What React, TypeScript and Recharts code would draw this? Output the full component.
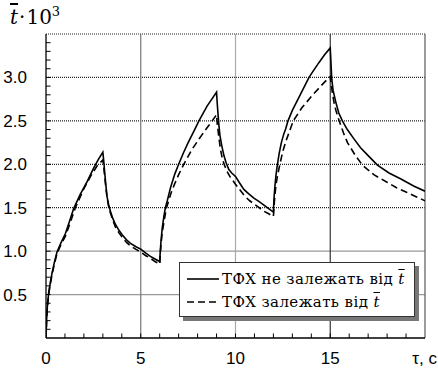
import { LineChart, Line, XAxis, YAxis, ReferenceLine } from "recharts";

// τ, с -> t̄·10³
const solidCurve = [
  { t: 0, v: 0 }, { t: 0.03, v: 0.2 }, { t: 0.07, v: 0.36 }, { t: 0.14, v: 0.52 },
  { t: 0.22, v: 0.63 }, { t: 0.32, v: 0.75 }, { t: 0.45, v: 0.88 }, { t: 0.58, v: 0.99 },
  { t: 0.8, v: 1.1 }, { t: 1.02, v: 1.2 }, { t: 1.25, v: 1.35 }, { t: 1.46, v: 1.49 },
  { t: 1.8, v: 1.65 }, { t: 2.17, v: 1.8 }, { t: 2.5, v: 1.95 }, { t: 2.75, v: 2.05 },
  { t: 3.0, v: 2.14 }, { t: 3.05, v: 2.03 }, { t: 3.1, v: 1.9 }, { t: 3.16, v: 1.76 },
  { t: 3.22, v: 1.63 }, { t: 3.3, v: 1.54 }, { t: 3.4, v: 1.46 }, { t: 3.52, v: 1.38 },
  { t: 3.66, v: 1.31 }, { t: 3.85, v: 1.24 }, { t: 4.02, v: 1.19 }, { t: 4.25, v: 1.13 },
  { t: 4.46, v: 1.09 }, { t: 4.75, v: 1.05 }, { t: 5.02, v: 1.02 }, { t: 5.25, v: 0.98 },
  { t: 5.51, v: 0.94 }, { t: 5.75, v: 0.91 }, { t: 6.0, v: 0.88 }, { t: 6.03, v: 1.0 },
  { t: 6.07, v: 1.12 }, { t: 6.13, v: 1.26 }, { t: 6.22, v: 1.4 }, { t: 6.3, v: 1.5 },
  { t: 6.4, v: 1.58 }, { t: 6.57, v: 1.73 }, { t: 6.8, v: 1.89 }, { t: 7.0, v: 2.0 },
  { t: 7.25, v: 2.13 }, { t: 7.5, v: 2.25 }, { t: 7.8, v: 2.38 }, { t: 8.07, v: 2.5 },
  { t: 8.5, v: 2.67 }, { t: 8.75, v: 2.75 }, { t: 9.0, v: 2.83 }, { t: 9.03, v: 2.72 },
  { t: 9.07, v: 2.6 }, { t: 9.12, v: 2.46 }, { t: 9.18, v: 2.33 }, { t: 9.28, v: 2.21 },
  { t: 9.39, v: 2.1 }, { t: 9.5, v: 2.02 }, { t: 9.65, v: 1.94 }, { t: 9.8, v: 1.9 },
  { t: 10.0, v: 1.86 }, { t: 10.2, v: 1.79 }, { t: 10.44, v: 1.71 }, { t: 10.7, v: 1.66 },
  { t: 10.97, v: 1.61 }, { t: 11.25, v: 1.57 }, { t: 11.5, v: 1.53 }, { t: 11.75, v: 1.49 },
  { t: 12.0, v: 1.45 }, { t: 12.03, v: 1.6 }, { t: 12.08, v: 1.75 }, { t: 12.14, v: 1.88 },
  { t: 12.2, v: 1.98 }, { t: 12.3, v: 2.12 }, { t: 12.42, v: 2.25 }, { t: 12.55, v: 2.35 },
  { t: 12.65, v: 2.41 }, { t: 12.77, v: 2.5 }, { t: 13.0, v: 2.62 }, { t: 13.3, v: 2.75 },
  { t: 13.6, v: 2.88 }, { t: 13.88, v: 3.0 }, { t: 14.15, v: 3.09 }, { t: 14.4, v: 3.17 },
  { t: 14.7, v: 3.26 }, { t: 15.0, v: 3.34 }, { t: 15.04, v: 3.16 }, { t: 15.08, v: 2.98 },
  { t: 15.15, v: 2.85 }, { t: 15.3, v: 2.71 }, { t: 15.45, v: 2.59 }, { t: 15.64, v: 2.5 },
  { t: 15.9, v: 2.4 }, { t: 16.26, v: 2.29 }, { t: 16.6, v: 2.19 }, { t: 17.0, v: 2.1 },
  { t: 17.49, v: 1.99 }, { t: 18.1, v: 1.9 }, { t: 18.73, v: 1.83 }, { t: 19.4, v: 1.75 },
  { t: 20.0, v: 1.69 },
];

const dashedCurve = [
  { t: 0, v: 0 }, { t: 0.03, v: 0.18 }, { t: 0.07, v: 0.34 }, { t: 0.14, v: 0.5 },
  { t: 0.22, v: 0.61 }, { t: 0.32, v: 0.73 }, { t: 0.45, v: 0.86 }, { t: 0.58, v: 0.97 },
  { t: 0.8, v: 1.08 }, { t: 1.02, v: 1.17 }, { t: 1.25, v: 1.31 }, { t: 1.55, v: 1.5 },
  { t: 1.8, v: 1.62 }, { t: 2.0, v: 1.72 }, { t: 2.35, v: 1.86 }, { t: 2.69, v: 1.98 },
  { t: 3.0, v: 2.05 }, { t: 3.05, v: 1.96 }, { t: 3.1, v: 1.85 }, { t: 3.16, v: 1.73 },
  { t: 3.22, v: 1.62 }, { t: 3.3, v: 1.52 }, { t: 3.4, v: 1.44 }, { t: 3.52, v: 1.36 },
  { t: 3.66, v: 1.28 }, { t: 3.85, v: 1.21 }, { t: 4.02, v: 1.16 }, { t: 4.25, v: 1.1 },
  { t: 4.46, v: 1.06 }, { t: 4.75, v: 1.02 }, { t: 5.0, v: 0.99 }, { t: 5.25, v: 0.95 },
  { t: 5.5, v: 0.92 }, { t: 5.75, v: 0.88 }, { t: 6.0, v: 0.85 }, { t: 6.03, v: 0.96 },
  { t: 6.07, v: 1.08 }, { t: 6.13, v: 1.21 }, { t: 6.22, v: 1.33 }, { t: 6.3, v: 1.43 },
  { t: 6.36, v: 1.5 }, { t: 6.6, v: 1.67 }, { t: 6.8, v: 1.78 }, { t: 7.0, v: 1.88 },
  { t: 7.27, v: 2.0 }, { t: 7.7, v: 2.17 }, { t: 8.2, v: 2.33 }, { t: 8.5, v: 2.42 },
  { t: 8.77, v: 2.5 }, { t: 9.0, v: 2.57 }, { t: 9.04, v: 2.46 }, { t: 9.1, v: 2.35 },
  { t: 9.2, v: 2.18 }, { t: 9.3, v: 2.07 }, { t: 9.4, v: 2.0 }, { t: 9.55, v: 1.92 },
  { t: 9.7, v: 1.86 }, { t: 10.0, v: 1.77 }, { t: 10.25, v: 1.7 }, { t: 10.5, v: 1.63 },
  { t: 10.75, v: 1.58 }, { t: 11.0, v: 1.54 }, { t: 11.25, v: 1.5 }, { t: 11.5, v: 1.46 },
  { t: 11.75, v: 1.43 }, { t: 12.0, v: 1.4 }, { t: 12.03, v: 1.5 }, { t: 12.07, v: 1.62 },
  { t: 12.13, v: 1.75 }, { t: 12.2, v: 1.85 }, { t: 12.35, v: 2.01 }, { t: 12.5, v: 2.15 },
  { t: 12.65, v: 2.26 }, { t: 12.8, v: 2.35 }, { t: 13.05, v: 2.5 }, { t: 13.5, v: 2.65 },
  { t: 14.0, v: 2.78 }, { t: 14.5, v: 2.9 }, { t: 14.85, v: 2.98 }, { t: 15.0, v: 3.01 },
  { t: 15.04, v: 2.93 }, { t: 15.1, v: 2.84 }, { t: 15.2, v: 2.71 }, { t: 15.3, v: 2.62 },
  { t: 15.47, v: 2.5 }, { t: 15.7, v: 2.36 }, { t: 15.91, v: 2.25 }, { t: 16.3, v: 2.11 },
  { t: 16.7, v: 1.99 }, { t: 17.3, v: 1.88 }, { t: 18.02, v: 1.79 }, { t: 18.5, v: 1.73 },
  { t: 19.0, v: 1.68 }, { t: 19.5, v: 1.63 }, { t: 20.0, v: 1.58 },
];

const xTicks = [0, 1, 2, 3, 4, 5, 6, 7, 8, 9, 10, 11, 12, 13, 14, 15, 16, 17, 18, 19, 20];
const xLabels: Record<number, string> = { 0: "0", 5: "5", 10: "10", 15: "15", 20: "τ, с" };
const yTicks = [0.5, 1.0, 1.5, 2.0, 2.5, 3.0];
const yMinor = Array.from({ length: 34 }, (_, i) => (i + 1) / 10);
const solidGrid = [0.5, 1.0];
const dottedGrid = [1.5, 2.0, 2.5, 3.0, 3.5];
const vGrid = [
  { x: 5, color: "#777" },
  { x: 10, color: "#aaa" },
  { x: 15, color: "#333" },
];

const W = 438;
const H = 371;
const PLOT_BOTTOM = 338;
const TICK_FONT = "'Liberation Sans', Arial, sans-serif";
const SERIF = "'DejaVu Serif', serif";

function XTick(props: any) {
  const { x, payload } = props;
  const v = payload.value;
  const last = v === 20;
  const label = xLabels[v];
  return (
    <g>
      {v > 0 && !last && (
        <line x1={x} x2={x} y1={PLOT_BOTTOM} y2={PLOT_BOTTOM - 4.5} stroke="#000" strokeWidth={1} />
      )}
      {label && (
        <text
          x={last ? 437 : x}
          y={358}
          textAnchor={last ? "end" : "middle"}
          dominantBaseline="central"
          fontFamily={TICK_FONT}
          fontSize={17}
          fill="#000"
        >
          {label}
        </text>
      )}
    </g>
  );
}

function LegendBox() {
  const row = { display: "flex", alignItems: "center", height: 23 } as const;
  const bar = { textDecoration: "overline", fontStyle: "italic" } as const;
  return (
    <div
      style={{
        position: "absolute",
        left: 179,
        top: 262,
        width: 236,
        height: 55,
        background: "#fff",
        border: "1px solid #333",
        boxShadow: "4px 4px 0 #777",
        fontFamily: SERIF,
        fontSize: 15,
        letterSpacing: 0.4,
        color: "#000",
        padding: "4px 0 0 7px",
        boxSizing: "border-box",
      }}
    >
      <div style={row}>
        <svg width={33} height={10} style={{ marginRight: 2 }}>
          <line x1={0} x2={32} y1={5} y2={5} stroke="#000" strokeWidth={1.6} />
        </svg>
        <span>
          ТФХ не залежать від <span style={bar}>t</span>
        </span>
      </div>
      <div style={row}>
        <svg width={33} height={10} style={{ marginRight: 2 }}>
          <line x1={0} x2={32} y1={5} y2={5} stroke="#000" strokeWidth={1.6} strokeDasharray="7 4" />
        </svg>
        <span>
          ТФХ залежать від <span style={bar}>t</span>
        </span>
      </div>
    </div>
  );
}

export default function App() {
  return (
    <div style={{ position: "absolute", left: 0, top: 0, width: W, height: H, background: "#fff" }}>
      <LineChart width={W} height={H} margin={{ top: 34, right: 13, bottom: 0, left: 0 }}>
        <XAxis
          type="number"
          dataKey="t"
          domain={[0, 20]}
          ticks={xTicks}
          interval={0}
          height={33}
          tickLine={false}
          axisLine={{ stroke: "#000", strokeWidth: 1.3 }}
          tick={<XTick />}
          allowDataOverflow
        />
        <YAxis
          type="number"
          dataKey="v"
          domain={[0, 3.5]}
          ticks={yTicks}
          interval={0}
          width={46}
          tickLine={false}
          tickMargin={13}
          axisLine={{ stroke: "#000", strokeWidth: 1.3 }}
          tick={{ fontFamily: TICK_FONT, fontSize: 17, fill: "#000" }}
          tickFormatter={(v: number) => v.toFixed(1)}
          allowDataOverflow
        />
        {solidGrid.map((y) => (
          <ReferenceLine key={`s${y}`} y={y} stroke="#999" strokeWidth={1.3} />
        ))}
        {dottedGrid.map((y) => (
          <ReferenceLine key={`d${y}`} y={y} stroke="#222" strokeWidth={1.2} strokeDasharray="1 1" />
        ))}
        {vGrid.map((g) => (
          <ReferenceLine key={`v${g.x}`} x={g.x} stroke={g.color} strokeWidth={1.2} />
        ))}
        <ReferenceLine x={20} stroke="#666" strokeWidth={1.3} />
        {/* minor ticks on the value axis, pointing into the plot */}
        {yMinor.map((y) => (
          <ReferenceLine
            key={`my${y}`}
            segment={[{ x: 0, y }, { x: 0.24, y }]}
            stroke="#000"
            strokeWidth={1}
            ifOverflow="visible"
          />
        ))}
        <Line
          data={dashedCurve}
          dataKey="v"
          type="linear"
          stroke="#000"
          strokeWidth={1.6}
          strokeDasharray="7 4"
          dot={false}
          isAnimationActive={false}
        />
        <Line
          data={solidCurve}
          dataKey="v"
          type="linear"
          stroke="#000"
          strokeWidth={1.6}
          dot={false}
          isAnimationActive={false}
        />
      </LineChart>
      <div
        style={{
          position: "absolute",
          left: 10,
          top: 4,
          fontFamily: SERIF,
          fontSize: 20,
          color: "#000",
          whiteSpace: "nowrap",
        }}
      >
        <span style={{ fontStyle: "italic", textDecoration: "overline" }}>t</span>
        <span style={{ margin: "0 1px" }}>·</span>10
        <sup style={{ fontSize: 13 }}>3</sup>
      </div>
      <LegendBox />
    </div>
  );
}
